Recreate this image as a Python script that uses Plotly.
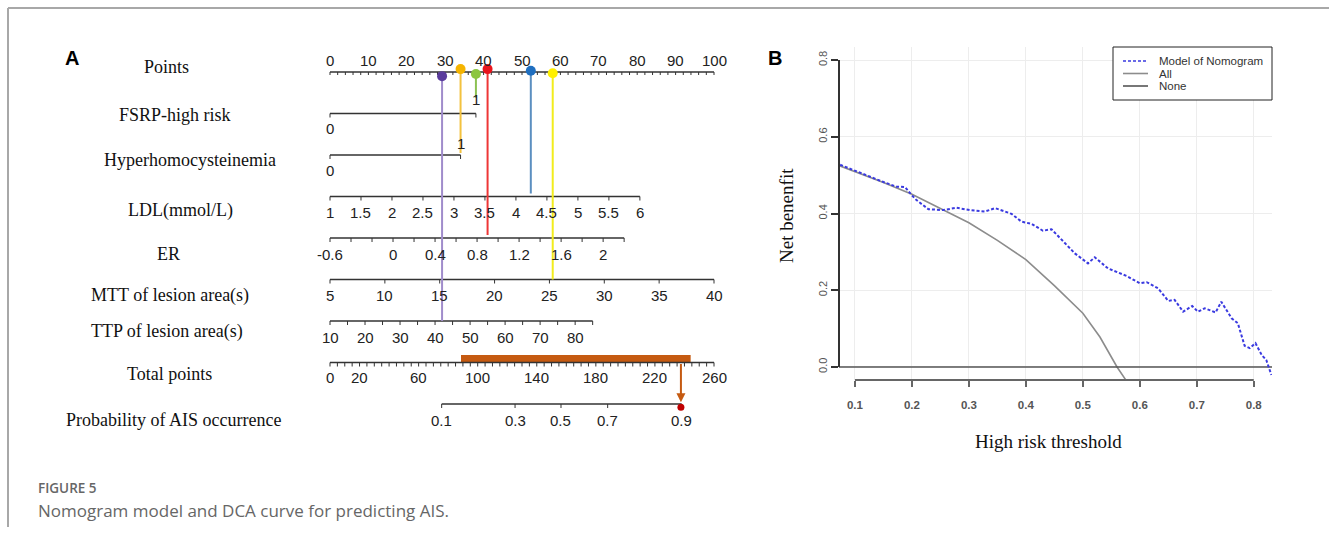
import plotly.graph_objects as go

W, H = 1329, 542

# ---------------- Panel A : nomogram data ----------------
row_names = ["Points", "FSRP-high risk", "Hyperhomocysteinemia", "LDL(mmol/L)", "ER",
             "MTT of lesion area(s)", "TTP of lesion area(s)", "Total points",
             "Probability of AIS occurrence"]

points_labels = [0, 10, 20, 30, 40, 50, 60, 70, 80, 90, 100]
points_minor = list(range(0, 101, 2))

fsrp_levels = ["0", "1"]
fsrp_points = [0.0, 38.0]
hhcy_levels = ["0", "1"]
hhcy_points = [0.0, 34.0]

ldl_ticks = [1, 1.5, 2, 2.5, 3, 3.5, 4, 4.5, 5, 5.5, 6]
ldl_labels = [1, 1.5, 2, 2.5, 3, 3.5, 4, 4.5, 5, 5.5, 6]
ldl_value_range = [1, 6]
ldl_point_range = [0, 80.7]

er_ticks = [-0.6, -0.4, -0.2, 0, 0.2, 0.4, 0.6, 0.8, 1.0, 1.2, 1.4, 1.6, 1.8, 2.0, 2.2]
er_labels = [-0.6, 0, 0.4, 0.8, 1.2, 1.6, 2]
er_value_range = [-0.6, 2.2]
er_point_range = [0, 76.6]

mtt_ticks = [5, 10, 15, 20, 25, 30, 35, 40]
mtt_labels = [5, 10, 15, 20, 25, 30, 35, 40]
mtt_value_range = [5, 40]
mtt_point_range = [0, 100]

ttp_ticks = [10, 15, 20, 25, 30, 35, 40, 45, 50, 55, 60, 65, 70, 75, 80, 85]
ttp_labels = [10, 20, 30, 40, 50, 60, 70, 80]
ttp_value_range = [10, 85]
ttp_point_range = [0, 68.4]

total_ticks = list(range(0, 261, 5))
total_labels = [0, 20, 60, 100, 140, 180, 220, 260]
total_value_range = [0, 260]
total_point_range = [0, 100]

prob_labels = ["0.1", "0.3", "0.5", "0.7", "0.9"]
prob_total_points = [75.6, 125.3, 156.4, 188.0, 238.1]

# example patient
patient_vars = ["TTP", "HHcy", "FSRP", "ER", "LDL", "MTT"]
patient_values = [42, 1, 1, 0.9, 4.24, 25.3]
total_interval = [88.7, 244.2]
pred_total = 237.6

# ---------------- Panel B : DCA data ----------------
thr_model = [0.074, 0.10, 0.15, 0.173, 0.188, 0.199, 0.208, 0.229, 0.255, 0.278, 0.302,
             0.328, 0.346, 0.375, 0.392, 0.41, 0.43, 0.445, 0.462, 0.486, 0.509, 0.521,
             0.544, 0.577, 0.600, 0.612, 0.632, 0.650, 0.661, 0.676, 0.692, 0.702, 0.714,
             0.733, 0.743, 0.761, 0.772, 0.784, 0.793, 0.803, 0.814, 0.822, 0.831]
nb_model = [0.527, 0.511, 0.482, 0.470, 0.469, 0.449, 0.435, 0.411, 0.409, 0.415, 0.409,
            0.405, 0.414, 0.399, 0.379, 0.373, 0.355, 0.359, 0.332, 0.296, 0.270, 0.286,
            0.257, 0.237, 0.218, 0.221, 0.205, 0.172, 0.175, 0.144, 0.159, 0.144, 0.153,
            0.142, 0.170, 0.127, 0.114, 0.055, 0.049, 0.062, 0.031, 0.018, -0.021]
thr_all = [0.072, 0.10, 0.15, 0.20, 0.25, 0.30, 0.35, 0.40, 0.45, 0.50, 0.53, 0.545, 0.56, 0.575]
nb_all = [0.525, 0.509, 0.481, 0.450, 0.414, 0.376, 0.330, 0.280, 0.212, 0.140, 0.078, 0.040, 0.0, -0.033]
thr_none = [0.072, 0.832]
nb_none = [0.0, 0.0]

legend_names = ["Model of Nomogram", "All", "None"]

# ---------------- helpers / styles ----------------
SERIF = "Liberation Serif"
SANS = "Liberation Sans"
ROW_PX = 41.5
TICK = 4 / ROW_PX

C_MODEL = "#3a3ae0"
C_ALL = "#8c8c8c"
C_NONE = "#555555"


def px(x):
    return x / W


def py(y):
    return 1 - y / H


def to_pts(v, vr, pr):
    return pr[0] + (v - vr[0]) * (pr[1] - pr[0]) / (vr[1] - vr[0])


def fmt(v):
    return f"{v:g}"


fig = go.Figure()
annotations = []
shapes = []

axis_x, axis_y = [], []
tick_x, tick_y = [], []


def add_axis(row, ticks, labels, vr, pr, direction=1, label_shift=-16, tick_len=TICK):
    xs = [to_pts(t, vr, pr) for t in ticks]
    axis_x.extend([to_pts(vr[0], vr, pr), to_pts(vr[1], vr, pr), None])
    axis_y.extend([row, row, None])
    for x in xs:
        tick_x.extend([x, x, None])
        tick_y.extend([row, row + direction * tick_len, None])
    for lab in labels:
        annotations.append(dict(x=to_pts(lab, vr, pr), y=row, xref="x", yref="y",
                                text=fmt(lab), showarrow=False, yshift=label_shift,
                                font=dict(family=SANS, size=15, color="#222")))


# Points axis (row 0) - labels above, small ticks below the line
add_axis(0, points_minor, points_labels, [0, 100], [0, 100], direction=1, label_shift=12,
         tick_len=3 / ROW_PX)
# binary variables
for row, levels, pts, up in [(1, fsrp_levels, fsrp_points, 14), (2, hhcy_levels, hhcy_points, 12)]:
    axis_x.extend([pts[0], pts[1], None])
    axis_y.extend([row, row, None])
    for p in pts:
        tick_x.extend([p, p, None])
        tick_y.extend([row, row + TICK, None])
    annotations.append(dict(x=pts[0], y=row, xref="x", yref="y", text=levels[0], showarrow=False,
                            yshift=-15, font=dict(family=SANS, size=15, color="#222")))
    annotations.append(dict(x=pts[1], y=row, xref="x", yref="y", text=levels[1], showarrow=False,
                            yshift=up, font=dict(family=SANS, size=15, color="#222")))
add_axis(3, ldl_ticks, ldl_labels, ldl_value_range, ldl_point_range)
add_axis(4, er_ticks, er_labels, er_value_range, er_point_range)
add_axis(5, mtt_ticks, mtt_labels, mtt_value_range, mtt_point_range)
add_axis(6, ttp_ticks, ttp_labels, ttp_value_range, ttp_point_range)
add_axis(7, total_ticks, total_labels, total_value_range, total_point_range, label_shift=-15)
# probability axis (positions given in total points)
prob_pts = [to_pts(t, total_value_range, total_point_range) for t in prob_total_points]
axis_x.extend([prob_pts[0], prob_pts[-1], None])
axis_y.extend([8, 8, None])
for p, lab in zip(prob_pts, prob_labels):
    tick_x.extend([p, p, None])
    tick_y.extend([8, 8 + TICK, None])
    annotations.append(dict(x=p, y=8, xref="x", yref="y", text=lab, showarrow=False, yshift=-16,
                            font=dict(family=SANS, size=15, color="#222")))

# total-points interval bar
shapes.append(dict(type="rect", xref="x", yref="y",
                   x0=to_pts(total_interval[0], total_value_range, total_point_range),
                   x1=to_pts(total_interval[1], total_value_range, total_point_range),
                   y0=7 - 0.18, y1=7 - 0.01, fillcolor="#c55a11", line=dict(width=0), layer="below"))

fig.add_trace(go.Scatter(x=axis_x, y=axis_y, mode="lines", line=dict(color="#333", width=1.3),
                         xaxis="x", yaxis="y", showlegend=False, hoverinfo="skip", cliponaxis=False))
fig.add_trace(go.Scatter(x=tick_x, y=tick_y, mode="lines", line=dict(color="#333", width=1),
                         xaxis="x", yaxis="y", showlegend=False, hoverinfo="skip", cliponaxis=False))

# patient projection lines and dots
patient_pts = [
    to_pts(patient_values[0], ttp_value_range, ttp_point_range),
    hhcy_points[int(patient_values[1])],
    fsrp_points[int(patient_values[2])],
    to_pts(patient_values[3], er_value_range, er_point_range),
    to_pts(patient_values[4], ldl_value_range, ldl_point_range),
    to_pts(patient_values[5], mtt_value_range, mtt_point_range),
]
line_colors = ["#a08ccb", "#f3c23f", "#8cc152", "#ee3636", "#5b8fc0", "#f2ec1c"]
dot_colors = ["#5a3c9c", "#f5b400", "#8dc641", "#e8141c", "#1f6fc0", "#fff000"]
dot_offsets = [0.1, -0.07, 0.05, -0.07, -0.03, 0.03]
line_end_rows = [6.0, 1.95, 0.62, 3.93, 2.93, 5.0]
for p, lc, off, end in zip(patient_pts, line_colors, dot_offsets, line_end_rows):
    fig.add_trace(go.Scatter(x=[p, p], y=[off, end], mode="lines", line=dict(color=lc, width=2),
                             xaxis="x", yaxis="y", showlegend=False, hoverinfo="skip", cliponaxis=False))
fig.add_trace(go.Scatter(x=patient_pts, y=dot_offsets, mode="markers",
                         marker=dict(color=dot_colors, size=10, line=dict(width=0)),
                         xaxis="x", yaxis="y", showlegend=False, hoverinfo="skip", cliponaxis=False))

pred_pts = to_pts(pred_total, total_value_range, total_point_range)
annotations.append(dict(x=pred_pts, y=7.96, ax=pred_pts, ay=7.0, xref="x", yref="y", axref="x", ayref="y",
                        text="", showarrow=True, arrowhead=2, arrowsize=0.9, arrowwidth=2,
                        arrowcolor="#c55a11"))
fig.add_trace(go.Scatter(x=[pred_pts], y=[8.08], mode="markers", marker=dict(color="#c00000", size=7),
                         xaxis="x", yaxis="y", showlegend=False, hoverinfo="skip", cliponaxis=False))

# row names
name_x = [166, 175, 190, 180, 168, 170, 167, 169, 173]
name_shift = [5, -1.5, -5, -13.5, -16, -16, -10, -11, -16]
for i, (nm, nx, sh) in enumerate(zip(row_names, name_x, name_shift)):
    annotations.append(dict(x=px(nx), y=i, xref="paper", yref="y", text=nm, showarrow=False,
                            yshift=sh, xanchor="center",
                            font=dict(family=SERIF, size=18, color="#111")))

# ---------------- Panel B traces ----------------
fig.add_trace(go.Scatter(x=thr_all, y=nb_all, mode="lines", name=legend_names[1],
                         line=dict(color=C_ALL, width=1.6), xaxis="x2", yaxis="y2",
                         showlegend=False, cliponaxis=False))
fig.add_trace(go.Scatter(x=thr_none, y=nb_none, mode="lines", name=legend_names[2],
                         line=dict(color=C_NONE, width=1.6), xaxis="x2", yaxis="y2",
                         showlegend=False))
fig.add_trace(go.Scatter(x=thr_model, y=nb_model, mode="lines", name=legend_names[0],
                         line=dict(color=C_MODEL, width=2, dash="3px,2px"), xaxis="x2", yaxis="y2",
                         showlegend=False, cliponaxis=False))

# base-R style legend box
shapes.append(dict(type="rect", xref="paper", yref="paper", x0=px(1113), x1=px(1272),
                   y0=py(100), y1=py(47), line=dict(color="#222", width=1), fillcolor="white"))
for k, (nm, col, dash) in enumerate(zip(legend_names, [C_MODEL, C_ALL, C_NONE],
                                        ["3px,2px", "solid", "solid"])):
    ly = 61 + k * 12.5
    shapes.append(dict(type="line", xref="paper", yref="paper", x0=px(1123), x1=px(1148),
                       y0=py(ly), y1=py(ly), line=dict(color=col, width=1.6, dash=dash)))
    annotations.append(dict(x=px(1157), y=py(ly), xref="paper", yref="paper", text=nm,
                            showarrow=False, xanchor="left",
                            font=dict(family=SANS, size=11.5, color="#333")))

# B axis lines (base-R style)
shapes.append(dict(type="line", xref="paper", yref="y2", x0=px(839), x1=px(839), y0=0, y1=0.8,
                   line=dict(color="#333", width=2)))
shapes.append(dict(type="line", xref="x2", yref="paper", x0=0.1, x1=0.8, y0=py(380), y1=py(380),
                   line=dict(color="#666", width=2)))

# frame
shapes.append(dict(type="line", xref="paper", yref="paper", x0=px(8), x1=1, y0=py(8), y1=py(8),
                   line=dict(color="#a8a8a8", width=2)))
shapes.append(dict(type="line", xref="paper", yref="paper", x0=px(8), x1=px(8), y0=py(8), y1=py(527),
                   line=dict(color="#a8a8a8", width=2)))

annotations += [
    dict(x=px(72), y=py(58), xref="paper", yref="paper", text="<b>A</b>", showarrow=False,
         xanchor="center", font=dict(family=SANS, size=20, color="#000")),
    dict(x=px(775), y=py(58), xref="paper", yref="paper", text="<b>B</b>", showarrow=False,
         xanchor="center", font=dict(family=SANS, size=20, color="#000")),
    dict(x=px(787), y=py(216), xref="paper", yref="paper", text="Net benenfit", showarrow=False,
         xanchor="center", textangle=-90, font=dict(family=SERIF, size=19, color="#111")),
    dict(x=px(1048), y=py(442), xref="paper", yref="paper", text="High risk threshold", showarrow=False,
         xanchor="center", font=dict(family=SERIF, size=19, color="#111")),
    dict(x=px(36), y=py(488), xref="paper", yref="paper", text="FIGURE 5", showarrow=False,
         xanchor="left", font=dict(family="Open Sans", size=13.5, color="#666", weight=600)),
    dict(x=px(36), y=py(510), xref="paper", yref="paper",
         text="Nomogram model and DCA curve for predicting AIS.", showarrow=False,
         xanchor="left", font=dict(family="Open Sans", size=17, color="#666")),
]
for a in annotations:
    if not a.get("showarrow", False):
        a["yanchor"] = "middle"

# axis domains
xa_lo, xa_hi = 330 - 2 * 3.84, 714 + 2 * 3.84
ya_top = 72 - 0.6 * ROW_PX
ya_bot = 72 + 8.6 * ROW_PX

fig.update_layout(
    width=W, height=H, margin=dict(l=0, r=0, t=0, b=0),
    paper_bgcolor="white", plot_bgcolor="white",
    xaxis=dict(domain=[px(xa_lo), px(xa_hi)], range=[-2, 102], visible=False),
    yaxis=dict(domain=[py(ya_bot), py(ya_top)], range=[8.6, -0.6], visible=False),
    xaxis2=dict(domain=[px(839), px(1272)], range=[0.072, 0.832], anchor="y2",
                tickvals=[0.1, 0.2, 0.3, 0.4, 0.5, 0.6, 0.7, 0.8],
                ticktext=["0.1", "0.2", "0.3", "0.4", "0.5", "0.6", "0.7", "0.8"],
                ticks="outside", ticklen=6, tickwidth=2, tickcolor="#666",
                showline=False, zeroline=False, showgrid=True, gridcolor="#ededed", gridwidth=1,
                ticklabelstandoff=8,
                tickfont=dict(family=SANS, size=11.5, color="#555", weight=600)),
    yaxis2=dict(domain=[py(380), py(47)], range=[-0.034, 0.834], anchor="x2",
                tickvals=[0, 0.2, 0.4, 0.6, 0.8], ticktext=["0.0", "0.2", "0.4", "0.6", "0.8"],
                tickangle=-90, ticks="outside", ticklen=7, tickwidth=1.5, tickcolor="#333",
                showline=False, zeroline=False, showgrid=True, gridcolor="#ededed", gridwidth=1,
                tickfont=dict(family=SANS, size=11, color="#555")),
    showlegend=False,
    annotations=annotations,
    shapes=shapes,
)

fig.write_html("out.html", config={"displayModeBar": False},
               post_script="document.body.style.margin='0px';")
